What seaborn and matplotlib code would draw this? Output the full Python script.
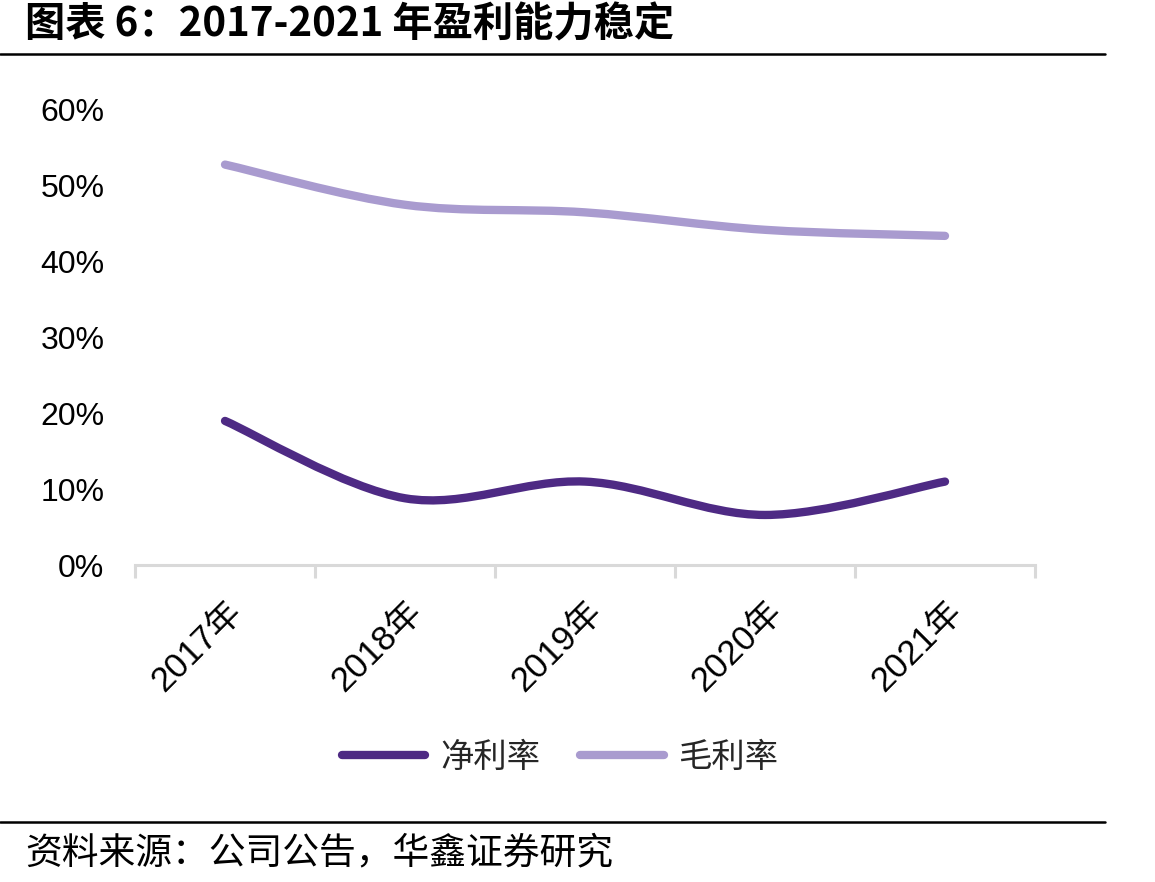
import numpy as np
import pandas as pd
import matplotlib
matplotlib.use("Agg")
import matplotlib.pyplot as plt
import seaborn as sns
from matplotlib.path import Path
from matplotlib.patches import PathPatch
from matplotlib.lines import Line2D
from matplotlib.ticker import PercentFormatter

# ---- data ----
years = ["2017年", "2018年", "2019年", "2020年", "2021年"]
net_margin = [0.190, 0.088, 0.110, 0.066, 0.110]
gross_margin = [0.528, 0.475, 0.465, 0.442, 0.434]
series_names = ["净利率", "毛利率"]
y_ticks = [0, 0.1, 0.2, 0.3, 0.4, 0.5, 0.6]

title_text = "图表 6：2017-2021 年盈利能力稳定"
source_text = "资料来源：公司公告，华鑫证券研究"

colors = {"净利率": "#4E2A84", "毛利率": "#A99BCF"}

sns.set_theme(style="white")
plt.rcParams['font.family'] = ['Noto Sans CJK SC', 'DejaVu Sans']

df = pd.DataFrame({
    "year": years * 2,
    "x": list(range(len(years))) * 2,
    "value": net_margin + gross_margin,
    "series": [series_names[0]] * len(years) + [series_names[1]] * len(years),
})

fig = plt.figure(figsize=(11.55, 8.82), dpi=100)
ax = fig.add_axes([0.1169, 0.3594, 0.8961 - 0.1169, 0.8753 - 0.3594])

sns.lineplot(data=df, x="x", y="value", hue="series", palette=colors,
             ax=ax, legend=False, linewidth=6)


def smooth_path(xs, ys):
    pts = np.column_stack([xs, ys]).astype(float)
    n = len(pts)
    verts = [pts[0]]
    codes = [Path.MOVETO]
    for i in range(n - 1):
        p0 = pts[i - 1] if i > 0 else pts[i]
        p1 = pts[i]
        p2 = pts[i + 1]
        p3 = pts[i + 2] if i + 2 < n else pts[i + 1]
        c1 = p1 + (p2 - p0) / 6.0
        c2 = p2 - (p3 - p1) / 6.0
        verts += [c1, c2, p2]
        codes += [Path.CURVE4] * 3
    return Path(verts, codes)


for line in list(ax.lines):
    xd, yd = line.get_xdata(), line.get_ydata()
    col = line.get_color()
    patch = PathPatch(smooth_path(xd, yd), facecolor="none", edgecolor=col,
                      linewidth=6, capstyle="round", joinstyle="round",
                      zorder=3)
    ax.add_patch(patch)
    line.set_visible(False)

ax.set_xlim(-0.5, len(years) - 0.5)
ax.set_ylim(0, 0.6)
ax.set_yticks(y_ticks)
ax.yaxis.set_major_formatter(PercentFormatter(1.0, decimals=0))
ax.set_xticks(range(len(years)))
ax.set_xticklabels(years)
ax.set_xlabel("")
ax.set_ylabel("")

for s in ["top", "right", "left"]:
    ax.spines[s].set_visible(False)
ax.spines["bottom"].set_color("#D9D9D9")
ax.spines["bottom"].set_linewidth(2.2)

# category boundary ticks
ax.set_xticks(np.arange(-0.5, len(years), 1.0), minor=True)
ax.tick_params(axis="x", which="minor", bottom=True, length=9, width=2.2,
               color="#D9D9D9", direction="out")
ax.tick_params(axis="x", which="major", bottom=False, length=0, pad=22)
ax.tick_params(axis="y", left=False, length=0, pad=22)

for lab in ax.get_yticklabels():
    lab.set_fontfamily(['Liberation Sans Narrow', 'Liberation Sans'])
    lab.set_fontsize(23)
    lab.set_color("black")
for lab in ax.get_xticklabels():
    lab.set_fontfamily(['Liberation Sans', 'Noto Sans CJK SC'])
    lab.set_fontsize(25)
    lab.set_rotation(45)
    lab.set_ha("right")
    lab.set_va("top")
    lab.set_rotation_mode("anchor")
    lab.set_color("black")

handles = [Line2D([0], [0], color=colors[n], linewidth=6, solid_capstyle="round")
           for n in series_names]
fig.legend(handles, series_names, loc="center", bbox_to_anchor=(0.485, 0.141),
           ncol=2, frameon=False, fontsize=24, handlelength=2.5,
           handletextpad=0.45, columnspacing=1.2)

# title and footer
fig.text(0.022, 0.972, title_text, fontsize=29, fontweight="bold",
         ha="left", va="center", color="black")
fig.add_artist(Line2D([0, 0.957], [0.939, 0.939], color="black",
                      linewidth=1.8, transform=fig.transFigure))
fig.add_artist(Line2D([0, 0.957], [0.068, 0.068], color="black",
                      linewidth=1.8, transform=fig.transFigure))
fig.text(0.022, 0.033, source_text, fontsize=26.5, ha="left", va="center",
         color="black")

fig.savefig("out.png", dpi=100, facecolor="white")
